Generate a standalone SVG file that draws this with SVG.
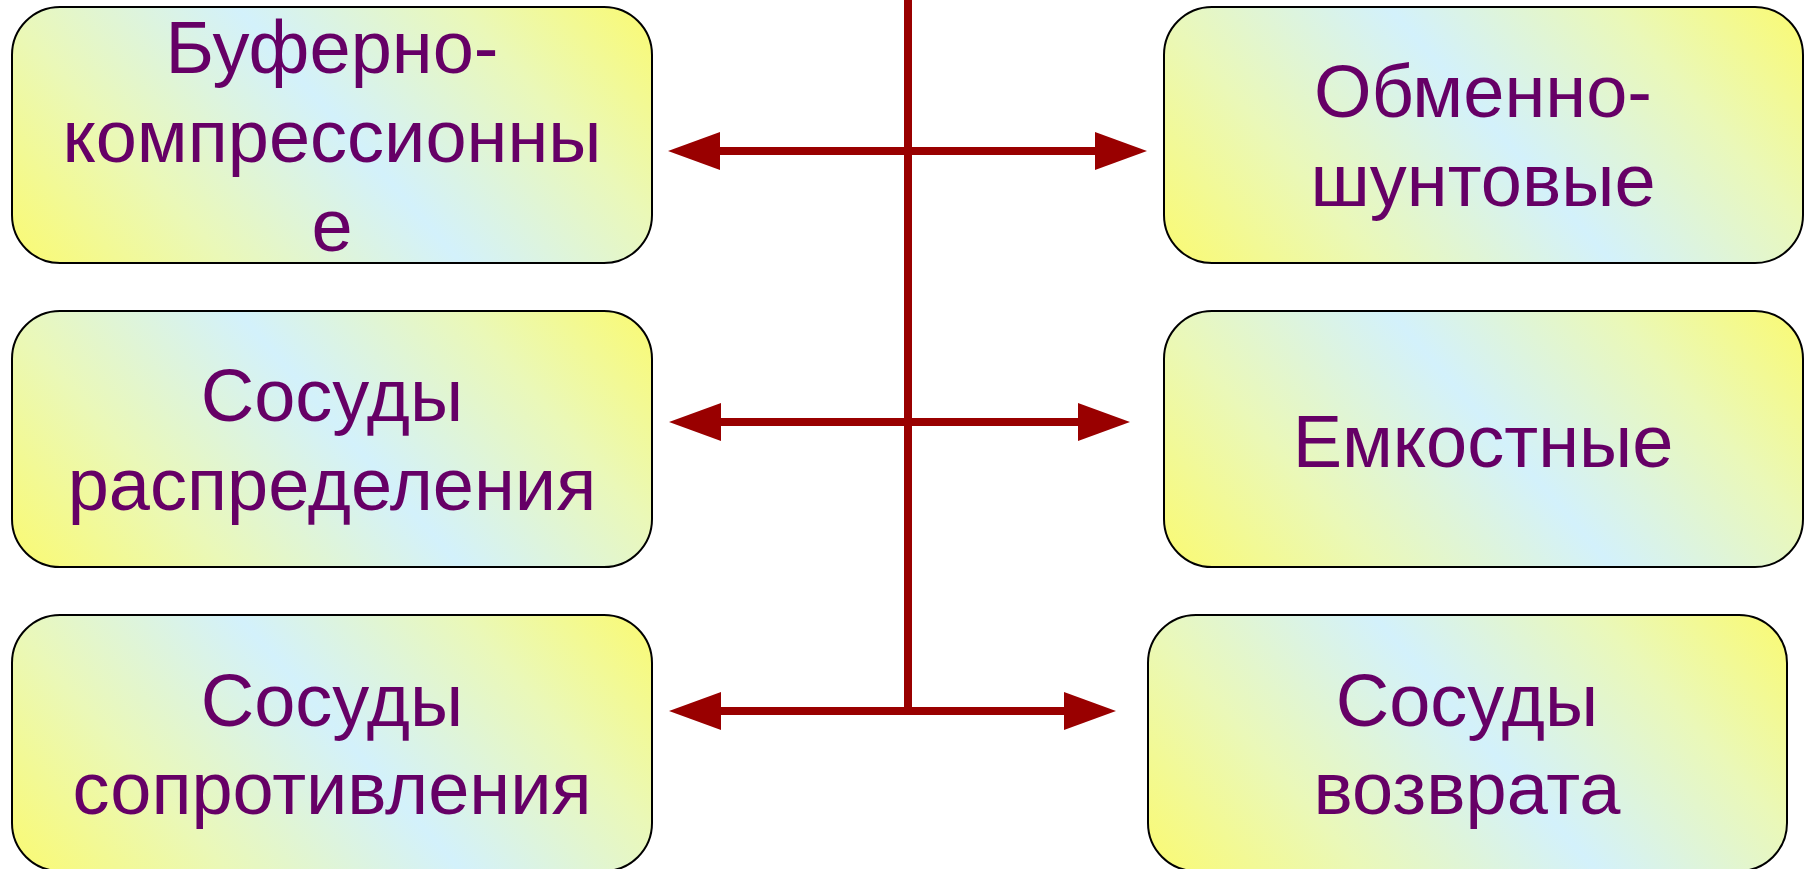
<svg xmlns="http://www.w3.org/2000/svg" width="1810" height="869" viewBox="0 0 1810 869">
<defs>
<linearGradient id="g" x1="0" y1="1" x2="1.203" y2="0.579">
<stop offset="0" stop-color="#FAFA72"/>
<stop offset="0.25" stop-color="#EAF8B8"/>
<stop offset="0.52" stop-color="#D3F1FB"/>
<stop offset="0.78" stop-color="#EAF8B8"/>
<stop offset="1" stop-color="#FAFA72"/>
</linearGradient>
<marker id="ah" viewBox="0 0 52 38" refX="0" refY="19" markerWidth="52" markerHeight="38" markerUnits="userSpaceOnUse" orient="auto-start-reverse">
<path d="M0,0 L52,19 L0,38 Z" fill="#990000"/>
</marker>
<style>
.box{fill:url(#g);stroke:#000;stroke-width:2}
.t{font-family:"Liberation Sans",Arial,sans-serif;font-size:74px;fill:#660066;text-anchor:middle}
.c{stroke:#990000;stroke-width:8;fill:none}
</style>
</defs>
<rect width="1810" height="869" fill="#fff"/>
<g id="connectors">
<path class="c" d="M908,0 V715"/>
<line class="c" x1="720" y1="151" x2="1095" y2="151" marker-start="url(#ah)" marker-end="url(#ah)"/>
<line class="c" x1="721" y1="422" x2="1078" y2="422" marker-start="url(#ah)" marker-end="url(#ah)"/>
<line class="c" x1="721" y1="711" x2="1064" y2="711" marker-start="url(#ah)" marker-end="url(#ah)"/>
</g>
<g id="n1">
<rect class="box" x="12" y="7" width="640" height="256" rx="48" ry="48"/>
<text class="t" x="332" y="73">Буферно-</text>
<text class="t" x="332" y="162">компрессионны</text>
<text class="t" x="332" y="251">е</text>
</g>
<g id="n2">
<rect class="box" x="12" y="311" width="640" height="256" rx="48" ry="48"/>
<text class="t" x="332" y="421">Сосуды</text>
<text class="t" x="332" y="510">распределения</text>
</g>
<g id="n3">
<rect class="box" x="12" y="615" width="640" height="256" rx="48" ry="48"/>
<text class="t" x="332" y="726">Сосуды</text>
<text class="t" x="332" y="814">сопротивления</text>
</g>
<g id="n4">
<rect class="box" x="1164" y="7" width="639" height="256" rx="48" ry="48"/>
<text class="t" x="1483" y="117">Обменно-</text>
<text class="t" x="1483" y="206">шунтовые</text>
</g>
<g id="n5">
<rect class="box" x="1164" y="311" width="639" height="256" rx="48" ry="48"/>
<text class="t" x="1483" y="467">Емкостные</text>
</g>
<g id="n6">
<rect class="box" x="1148" y="615" width="639" height="256" rx="48" ry="48"/>
<text class="t" x="1467" y="726">Сосуды</text>
<text class="t" x="1467" y="814">возврата</text>
</g>
</svg>
